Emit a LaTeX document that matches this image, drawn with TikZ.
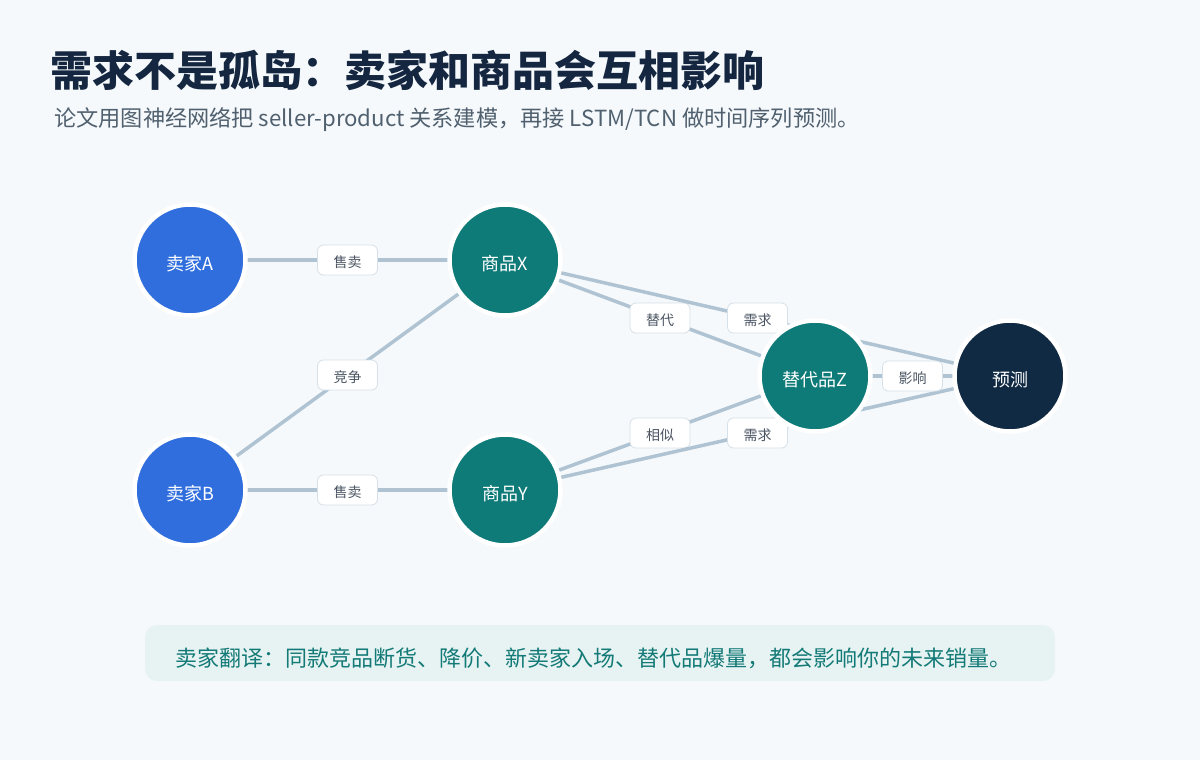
\documentclass[tikz,border=0pt]{standalone}
\usepackage{fontspec}
\setmainfont{Noto Sans CJK SC}
\definecolor{bg}{HTML}{F5F9FC}
\definecolor{seller}{HTML}{306EDD}
\definecolor{prod}{HTML}{0F7B78}
\definecolor{pred}{HTML}{102A43}
\definecolor{edge}{HTML}{AFC3D3}
\definecolor{lblborder}{HTML}{D5E0E8}
\definecolor{lbltext}{HTML}{4B5563}
\definecolor{titlec}{HTML}{142640}
\definecolor{subc}{HTML}{50606E}
\definecolor{notebg}{HTML}{E6F3F2}
\definecolor{notetext}{HTML}{147A77}
\newcommand{\dn}[2]{\raisebox{-#1pt}[\height][\depth]{#2}}
\tikzset{
  ent/.style={circle, minimum size=111pt, inner sep=0pt, draw=white, line width=4.5pt, text=white, font=\fontsize{18}{21}\selectfont},
  link/.style={draw=edge, line width=3.5pt},
  lbl/.style={rectangle, rounded corners=6pt, fill=white, draw=lblborder, line width=0.8pt, minimum width=60pt, minimum height=30pt, inner sep=0pt, text=lbltext, font=\fontsize{14}{16}\selectfont},
}
\begin{document}
\begin{tikzpicture}[x=1pt,y=-1pt]
\fill[bg] (0,0) rectangle (1200,760);
\useasboundingbox (0,0) rectangle (1200,760);

\node[anchor=base west, inner sep=0pt, text=titlec, font=\fontsize{42}{48}\selectfont\bfseries] (title) at (50,87) {需求不是孤岛：卖家和商品会互相影响};
\node[anchor=base west, inner sep=0pt, text=subc, font=\fontsize{22.2}{26}\selectfont] (sub) at (54,126) {论文用图神经网络把 seller-product 关系建模，再接 LSTM/TCN 做时间序列预测。};

% node positions
\coordinate (pA) at (190,260);
\coordinate (pB) at (190,490);
\coordinate (pX) at (505,260);
\coordinate (pY) at (505,490);
\coordinate (pZ) at (815,376);
\coordinate (pP) at (1010,376);

% edges
\draw[link] (pA) -- (pX) node[midway, lbl] (l1) {\dn{2}{售卖}};
\draw[link] (pB) -- (pY) node[midway, lbl] (l2) {\dn{2}{售卖}};
\draw[link] (pB) -- (pX) node[midway, lbl] (l3) {\dn{2}{竞争}};
\draw[link] (pX) -- (pZ) node[midway, lbl] (l4) {\dn{2}{替代}};
\draw[link] (pY) -- (pZ) node[midway, lbl] (l5) {\dn{2}{相似}};
\draw[link] (pX) -- (pP) node[midway, lbl] (l6) {\dn{2}{需求}};
\draw[link] (pY) -- (pP) node[midway, lbl] (l7) {\dn{2}{需求}};
\draw[link] (pZ) -- (pP) node[midway, lbl] (l8) {\dn{2}{影响}};

% nodes
\node[ent, fill=seller] (A) at (pA) {\dn{4}{卖家A}};
\node[ent, fill=seller] (B) at (pB) {\dn{4}{卖家B}};
\node[ent, fill=prod] (X) at (pX) {\dn{4}{商品X}};
\node[ent, fill=prod] (Y) at (pY) {\dn{4}{商品Y}};
\node[ent, fill=prod] (Z) at (pZ) {\dn{4}{替代品Z}};
\node[ent, fill=pred] (P) at (pP) {\dn{4}{预测}};

% note
\node[rectangle, rounded corners=12pt, fill=notebg, minimum width=910pt, minimum height=56pt, inner sep=0pt] (notebox) at (600,653) {};
\node[anchor=base west, inner sep=0pt, text=notetext, font=\fontsize{22}{26}\selectfont] (note) at (175,666) {卖家翻译：同款竞品断货、降价、新卖家入场、替代品爆量，都会影响你的未来销量。};
\end{tikzpicture}
\end{document}
